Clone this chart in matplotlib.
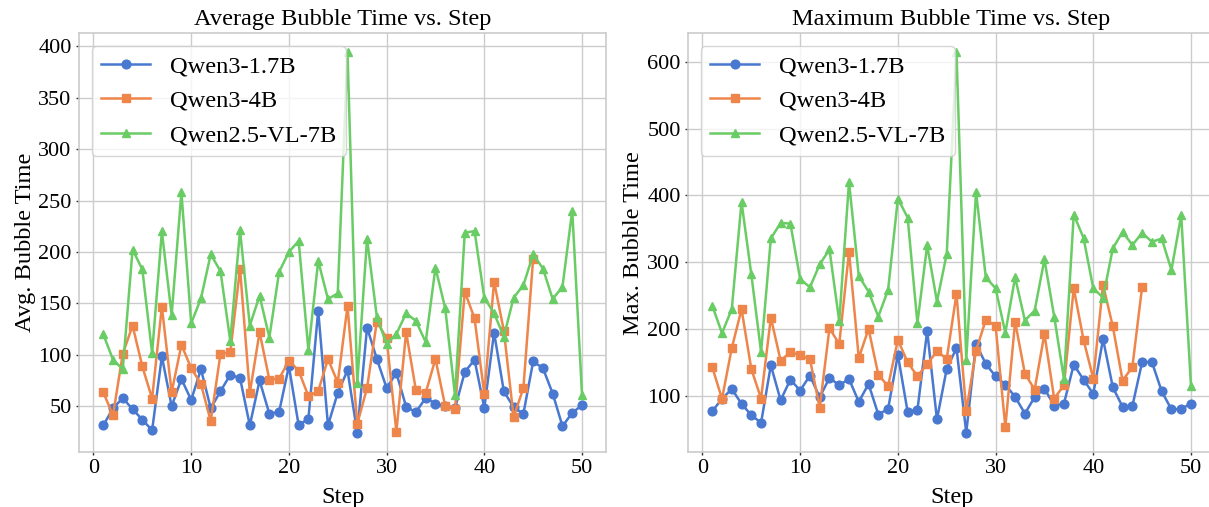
import matplotlib
matplotlib.use("Agg")
import matplotlib.pyplot as plt
import numpy as np

plt.rcParams['font.family'] = ['Liberation Serif', 'DejaVu Serif']

steps_full = list(range(1, 51))
series_names = ["Qwen3-1.7B", "Qwen3-4B", "Qwen2.5-VL-7B"]

avg_qwen3_1_7b = [31.3, 48, 58, 47, 37, 26.5, 98.4, 50, 76.5, 56,
                  86, 48, 64.5, 80.6, 77.4, 31.3, 75, 42.6, 44.5, 89,
                  31.3, 38, 143, 31.3, 63, 84.8, 24.2, 126.5, 96, 67.7,
                  82.3, 49.4, 44.2, 58, 52.6, 50, 48, 83.2, 95.2, 48.4,
                  121.6, 64.5, 49, 42.6, 93.5, 87, 62.3, 30.6, 43.5, 51]
avg_qwen3_4b = [63.5, 41.3, 101, 128.4, 88.7, 57.4, 146.8, 63.5, 109.7, 87,
                71.6, 35.5, 101, 102.3, 183.9, 62.9, 122, 75.8, 76.8, 94.2,
                84.5, 59.7, 64.5, 96, 73, 147.4, 33, 67.7, 132.3, 116.1,
                25.2, 122, 65.5, 62.9, 96, 50, 47.4, 161.3, 135.5, 61.9,
                171, 123.5, 39.4, 67.7, 193.5]
avg_qwen25_vl_7b = [120, 95.2, 86, 202.3, 183, 101.6, 220, 138.7, 258, 130.6,
                    154.8, 197.7, 181.3, 113.5, 221, 128.4, 157.4, 116.8, 180.6, 200,
                    210.7, 104.2, 191.3, 154.2, 159.7, 394, 72.6, 213, 137, 110.3,
                    120.3, 140.3, 133, 112.3, 184.8, 145.2, 60.6, 218.7, 220.3, 155.5,
                    140.3, 117.7, 155.5, 167.7, 197.7, 183.9, 154.2, 166.1, 240.3, 61.3]

max_qwen3_1_7b = [76.6, 95, 110, 87.6, 70.6, 59.2, 145.3, 93, 123.9, 107.5,
                  129.9, 97.5, 126.4, 115.4, 124.9, 90.5, 117.4, 71.6, 80, 161.2,
                  75.6, 78.1, 197, 64.2, 140, 171.1, 44.3, 177.6, 147.3, 128.9,
                  116.4, 98, 73.1, 97.5, 110.4, 85, 88, 146.3, 123.9, 102.5,
                  184.6, 112.4, 83.1, 84.1, 150.2, 150.2, 106.5, 79.1, 80, 88]
max_qwen3_4b = [142.8, 95, 171.1, 229.4, 139.8, 95.5, 216.9, 152.2, 165.2, 160.2,
                154.7, 81.6, 201, 177.1, 315.4, 156.2, 200, 131.3, 113.9, 183.6,
                149.8, 128.9, 147.3, 166.2, 155, 252.2, 76.6, 167.2, 213.4, 204.5,
                52.7, 210.9, 132.8, 109, 192.5, 95.5, 115.4, 260.7, 183.6, 125.4,
                265.7, 203.5, 122.4, 142.8, 263.2]
max_qwen25_vl_7b = [234.8, 193.5, 229.4, 390, 281.6, 165.2, 335.3, 358.7, 357.7, 274.6,
                    262.2, 296.5, 318.9, 211, 419.9, 279.1, 255.7, 218.4, 258.2, 395,
                    366.7, 208.5, 325.4, 240.8, 312, 614, 153.7, 405, 277.1, 260.7,
                    194, 277.1, 212.4, 227.4, 304, 218.4, 124.9, 371.1, 336.3, 260.7,
                    246.8, 320.4, 345.3, 325.4, 343.8, 330.3, 335.3, 288.1, 370.1, 113.9]

x_ticks = [0, 10, 20, 30, 40, 50]
avg_y_ticks = [50, 100, 150, 200, 250, 300, 350, 400]
max_y_ticks = [100, 200, 300, 400, 500, 600]

colors = ["#4878D0", "#EE854A", "#6ACC64"]
markers = ["o", "s", "^"]

fig = plt.figure(figsize=(12.09, 5.07), dpi=100)
ax1 = fig.add_axes([0.0656, 0.109, 0.4356, 0.825])
ax2 = fig.add_axes([0.5693, 0.109, 0.4356, 0.825])

panels = [
    (ax1, [avg_qwen3_1_7b, avg_qwen3_4b, avg_qwen25_vl_7b],
     "Average Bubble Time vs. Step", "Avg. Bubble Time", avg_y_ticks),
    (ax2, [max_qwen3_1_7b, max_qwen3_4b, max_qwen25_vl_7b],
     "Maximum Bubble Time vs. Step", "Max. Bubble Time", max_y_ticks),
]

for ax, data, title, ylabel, yt in panels:
    for vals, name, c, m in zip(data, series_names, colors, markers):
        xs = steps_full[:len(vals)]
        ax.plot(xs, vals, color=c, marker=m, markersize=6.3, linewidth=1.8, label=name)
    ax.set_title(title, fontsize=17.6, pad=6)
    ax.set_xlabel("Step", fontsize=17.6, labelpad=6)
    ax.set_ylabel(ylabel, fontsize=17.6, labelpad=2)
    ax.set_xticks(x_ticks)
    ax.set_yticks(yt)
    ax.grid(True, color="0.8", linewidth=1.0)
    ax.set_axisbelow(True)
    for sp in ax.spines.values():
        sp.set_color("0.8")
        sp.set_linewidth(1.2)
    ax.tick_params(axis="both", labelsize=16, length=2.5, width=1, color="0.2", pad=3)
    ax.legend(loc="upper left", fontsize=17.6, framealpha=0.8,
              edgecolor="0.8", fancybox=True)

fig.savefig("out.png", dpi=100)
